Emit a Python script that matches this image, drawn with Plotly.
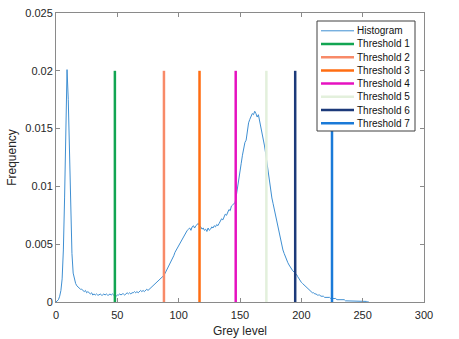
import plotly.graph_objects as go

grey_levels = list(range(256))
frequency = [
    0, 0.0001, 0.0002, 0.0005, 0.001, 0.002, 0.0045, 0.009, 0.0155, 0.0201,
    0.0175, 0.0126, 0.0075, 0.0042, 0.0025, 0.0019, 0.0016, 0.0014, 0.0013, 0.0012,
    0.0011, 0.0011, 0.0010, 0.0009, 0.0010, 0.0008, 0.0009, 0.0008, 0.0007, 0.0008,
    0.0006, 0.0007, 0.0006, 0.0007, 0.0006, 0.0006, 0.0007, 0.0006, 0.0006, 0.0007,
    0.0006, 0.0007, 0.0006, 0.0006, 0.0007, 0.0006, 0.0007, 0.0006, 0.0006, 0.0005,
    0.0006, 0.0006, 0.0007, 0.0006, 0.0007, 0.0007, 0.0006, 0.0007, 0.0008, 0.0007,
    0.0008, 0.0007, 0.0008, 0.0008, 0.0009, 0.0008, 0.0009, 0.0008, 0.0009, 0.0010,
    0.0009, 0.0010, 0.0009, 0.0010, 0.0011, 0.0010, 0.0011, 0.0012, 0.0013, 0.0014,
    0.0015, 0.0016, 0.0017, 0.0018, 0.0019, 0.0020, 0.0021, 0.0022, 0.0023, 0.0025,
    0.0027, 0.0029, 0.0031, 0.0033, 0.0035, 0.0037, 0.0040, 0.0043, 0.0045, 0.0047,
    0.0049, 0.0051, 0.0053, 0.0055, 0.0057, 0.0059, 0.0060, 0.0062, 0.0063, 0.0064,
    0.0062, 0.0065, 0.0066, 0.0064, 0.0066, 0.0067, 0.0068, 0.0066, 0.0065, 0.0063,
    0.0064, 0.0062, 0.0063, 0.0061, 0.0064, 0.0062, 0.0063, 0.0065, 0.0064, 0.0066,
    0.0065, 0.0067, 0.0066, 0.0068, 0.0070, 0.0072, 0.0071, 0.0073, 0.0076, 0.0075,
    0.0078, 0.0080, 0.0079, 0.0083, 0.0084, 0.0085, 0.0086, 0.0092, 0.0100, 0.0108,
    0.0113, 0.0120, 0.0127, 0.0133, 0.0138, 0.0140, 0.0148, 0.0155, 0.0158, 0.0160,
    0.0163, 0.0162, 0.0165, 0.0163, 0.0160, 0.0162, 0.0157, 0.0152, 0.0148, 0.0142,
    0.0135, 0.0128, 0.0120, 0.0112, 0.0104, 0.0096, 0.0090, 0.0085, 0.0080, 0.0074,
    0.0068, 0.0063, 0.0058, 0.0053, 0.0049, 0.0045, 0.0042, 0.0039, 0.0036, 0.0034,
    0.0032, 0.0030, 0.0029, 0.0027, 0.0026, 0.0025, 0.0024, 0.0022, 0.0020, 0.0018,
    0.0017, 0.0016, 0.0015, 0.0014, 0.0013, 0.0012, 0.0011, 0.0010, 0.0009, 0.0008,
    0.0008, 0.0007, 0.0007, 0.0006, 0.0006, 0.0006, 0.0005, 0.0005, 0.0005, 0.0004,
    0.0004, 0.0004, 0.0004, 0.0004, 0.0003, 0.0003, 0.0003, 0.0003, 0.0003, 0.0002,
    0.0002, 0.0002, 0.0002, 0.0002, 0.0002, 0.0002, 0.0001, 0.0001, 0.0001, 0.0001,
    0.0001, 0.0001, 0.0001, 0.0001, 0.0001, 0.0001, 0.0001, 0.0001, 0.0001, 0.0001,
    0.0001, 0.0001, 0.0001, 0.00005, 0.00002, 0,
]

threshold_names = ["Threshold 1", "Threshold 2", "Threshold 3", "Threshold 4",
                   "Threshold 5", "Threshold 6", "Threshold 7"]
threshold_values = [48, 88, 117, 146.5, 171.5, 195, 225]
threshold_height = 0.02
threshold_colors = ["#12a552", "#f88a68", "#ff6d12", "#e612c0",
                    "#e3f0dc", "#1c3a7a", "#1a7ad8"]
hist_color = "#3f8fd2"

x_ticks = [0, 50, 100, 150, 200, 250, 300]
y_ticks = [0, 0.005, 0.01, 0.015, 0.02, 0.025]
y_ticklabels = ["0", "0.005", "0.01", "0.015", "0.02", "0.025"]

fig = go.Figure()
fig.add_trace(go.Scatter(x=grey_levels, y=frequency, mode="lines", name="Histogram",
                         line=dict(color=hist_color, width=1)))
for name, val, col in zip(threshold_names, threshold_values, threshold_colors):
    fig.add_trace(go.Scatter(x=[val, val], y=[0, threshold_height], mode="lines",
                             name=name, line=dict(color=col, width=2.5)))

# Compact MATLAB-style legend built in paper coordinates
W, H = 459, 339
L, R, T, B = 56, 35, 13, 37
pw, ph = W - L - R, H - T - B
def px(x): return (x - L) / pw
def py(y): return (H - B - y) / ph

legend_names = ["Histogram"] + threshold_names
legend_colors = [hist_color] + threshold_colors
legend_widths = [1] + [2.5] * len(threshold_names)
box_l, box_r, box_t, box_b = 317, 415, 21, 131
row0, row_step = 30.8, 13.2
shapes = [dict(type="rect", xref="paper", yref="paper",
               x0=px(box_l), x1=px(box_r), y0=py(box_b), y1=py(box_t),
               line=dict(color="#404040", width=1), fillcolor="white", layer="above")]
annotations = []
for i, (nm, col, lw) in enumerate(zip(legend_names, legend_colors, legend_widths)):
    yy = row0 + i * row_step
    shapes.append(dict(type="line", xref="paper", yref="paper",
                       x0=px(321), x1=px(354), y0=py(yy), y1=py(yy),
                       line=dict(color=col, width=lw), layer="above"))
    annotations.append(dict(x=px(356), y=py(yy), xref="paper", yref="paper",
                            text=nm, showarrow=False, xanchor="left", yanchor="middle",
                            xshift=-1, font=dict(size=10, color="#111111")))

axis_common = dict(showline=True, linecolor="#8a8a8a", linewidth=1, mirror="ticks",
                   ticks="inside", ticklen=4, tickcolor="#8a8a8a", showgrid=False,
                   zeroline=False, automargin=False,
                   tickfont=dict(family="Liberation Sans, Arial", size=11, color="#262626"))

fig.update_layout(
    width=W, height=H,
    margin=dict(l=L, r=R, t=T, b=B),
    plot_bgcolor="white", paper_bgcolor="white",
    font=dict(family="Liberation Sans, Arial", color="#262626"),
    xaxis=dict(range=[0, 300], tickvals=x_ticks, ticklabelstandoff=3,
               title=dict(text="Grey level", font=dict(size=12), standoff=6), **axis_common),
    yaxis=dict(range=[0, 0.025], tickvals=y_ticks, ticktext=y_ticklabels,
               title=dict(text="Frequency", font=dict(size=12), standoff=6), **axis_common),
    showlegend=False,
    shapes=shapes,
    annotations=annotations,
)

fig.write_html("out.html")
